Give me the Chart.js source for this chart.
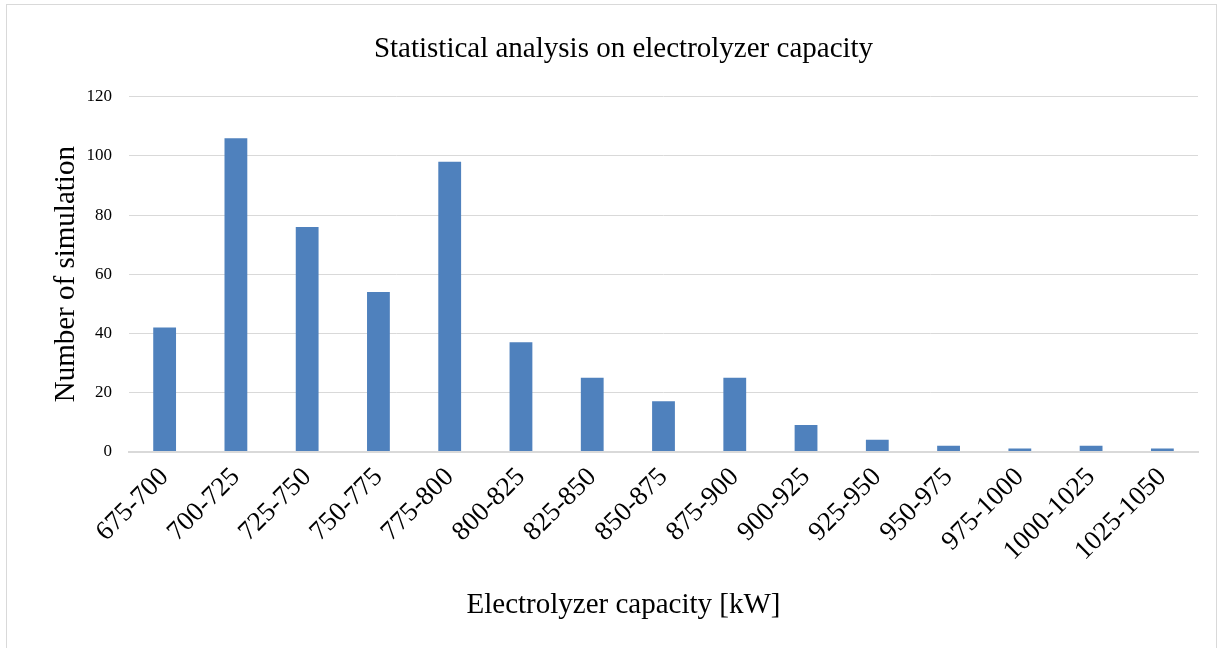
<!DOCTYPE html>
<html>
<head>
<meta charset="utf-8">
<script src="https://cdn.jsdelivr.net/npm/chart.js@4"></script>
<style>
  body { margin: 0; background: #fff; }
  #box { position: absolute; left: 6px; top: 4px; width: 1211px; height: 660px; border: 1px solid #d9d9d9; box-sizing: border-box; }
</style>
</head>
<body>
<div id="box"><canvas id="myChart"></canvas></div>
<script>
var ranges = ['675-700', '700-725', '725-750', '750-775', '775-800', '800-825', '825-850', '850-875',
    '875-900', '900-925', '925-950', '950-975', '975-1000', '1000-1025', '1025-1050']
var simCount = [42, 106, 76, 54, 98, 37, 25, 17, 25, 9, 4, 2, 1, 2, 1]

var ctx = document.getElementById('myChart')
var serif = "'Liberation Serif', 'Times New Roman', serif"

var myChart = new Chart(ctx, {
    type: 'bar',
    data: {
        labels: ranges,
        datasets: [{
            label: 'Number of simulation',
            data: simCount,
            backgroundColor: '#4f81bd',
            borderWidth: 0,
            categoryPercentage: 1,
            barPercentage: 0.32
        }]
    },
    options: {
        responsive: true,
        maintainAspectRatio: false,
        animation: false,
        layout: { padding: { left: 42, right: 18, top: 10, bottom: 0 } },
        plugins: {
            legend: { display: false },
            tooltip: { enabled: false },
            title: {
                display: true,
                text: 'Statistical analysis on electrolyzer capacity',
                color: '#000',
                font: { family: serif, size: 29, weight: 'normal' },
                padding: { top: 17, bottom: 30 }
            },
            // x axis title, centred on the whole chart like the reference
            subtitle: {
                display: true,
                position: 'bottom',
                text: 'Electrolyzer capacity [kW]',
                color: '#000',
                font: { family: serif, size: 29, weight: 'normal' },
                padding: { top: 19, bottom: 40 }
            }
        },
        scales: {
            x: {
                grid: { display: false },
                border: { color: '#d9d9d9', width: 2 },
                ticks: {
                    color: '#000',
                    font: { family: serif, size: 27 },
                    minRotation: 45,
                    maxRotation: 45,
                    padding: 2
                },
                afterFit: function (scale) {
                    scale.paddingLeft = 0
                }
            },
            y: {
                min: 0,
                max: 120,
                ticks: {
                    stepSize: 20,
                    color: '#000',
                    font: { family: serif, size: 17 },
                    padding: 17
                },
                grid: { color: '#d9d9d9', drawTicks: false },
                border: { display: false },
                title: {
                    display: true,
                    text: 'Number of simulation',
                    color: '#000',
                    font: { family: serif, size: 29 },
                    padding: 0
                },
                afterFit: function (scale) {
                    scale.width = 80
                }
            }
        }
    }
})
</script>
</body>
</html>
